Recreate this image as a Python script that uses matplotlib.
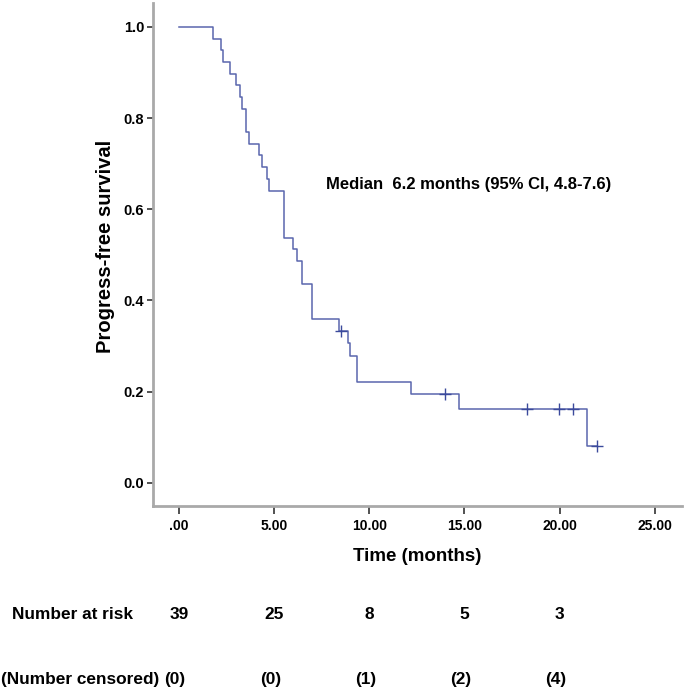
"""
Kaplan-Meier plot: progression-free survival, with number-at-risk table.
Output: out.png
"""

import matplotlib as mpl
import matplotlib.pyplot as plt
from matplotlib.ticker import FixedLocator, FuncFormatter
from matplotlib.transforms import blended_transform_factory

mpl.rcParams.update({
    "font.family": ["Liberation Sans", "DejaVu Sans"],
    "font.weight": "bold",
})

# step curve: time of each drop (months) and survival after it
step_time = [0.0, 1.80, 2.19, 2.29, 2.68, 2.99, 3.20, 3.31, 3.52, 3.69,
             4.22, 4.34, 4.60, 4.71, 5.53, 6.00, 6.18, 6.49, 7.00, 8.42,
             8.89, 8.98, 9.33, 12.18, 14.70, 21.43, 21.98]
step_surv = [1.000, 0.974, 0.949, 0.923, 0.897, 0.872, 0.846, 0.821, 0.769,
             0.744, 0.718, 0.692, 0.667, 0.641, 0.538, 0.513, 0.487, 0.436,
             0.359, 0.333, 0.306, 0.278, 0.222, 0.194, 0.162, 0.081, 0.081]

# censored observations
cens_time = [8.49, 14.00, 18.29, 19.98, 20.70, 21.98]
cens_surv = [0.333, 0.194, 0.162, 0.162, 0.162, 0.081]

x_ticks = [0, 5, 10, 15, 20, 25]
y_ticks = [0.0, 0.2, 0.4, 0.6, 0.8, 1.0]

risk_time = [0, 5, 10, 15, 20]
n_at_risk = [39, 25, 8, 5, 3]
n_censored = [0, 0, 1, 2, 4]

LINE = "#5a66ad"
SPINE = "#a9a9a9"


def x_fmt(v, _pos):
    s = f"{v:.2f}"
    return s[1:] if s.startswith("0") else s


def main():
    fig = plt.figure(figsize=(6.85, 6.9), dpi=100)
    ax = fig.add_axes([0.2229, 0.266, 0.772, 0.730])

    ax.step(step_time, step_surv, where="post", color=LINE, lw=1.1)
    ax.plot(cens_time, cens_surv, ls="none", marker="+", ms=8, mew=1.0,
            color="#3b4a9c")

    ax.text(7.75, 0.655, "Median  6.2 months (95% CI, 4.8-7.6)",
            fontsize=12, fontweight="bold", va="center", ha="left")

    ax.set_xlim(-1.38, 26.4)
    ax.set_ylim(-0.052, 1.053)
    ax.xaxis.set_major_locator(FixedLocator(x_ticks))
    ax.xaxis.set_major_formatter(FuncFormatter(x_fmt))
    ax.yaxis.set_major_locator(FixedLocator(y_ticks))
    ax.yaxis.set_major_formatter(FuncFormatter(lambda v, p: f"{v:.1f}"))

    for side in ("top", "right"):
        ax.spines[side].set_visible(False)
    for side in ("left", "bottom"):
        ax.spines[side].set_color(SPINE)
        ax.spines[side].set_linewidth(2.0)

    ax.tick_params(axis="x", length=6, width=1.2, color="#333333",
                   labelsize=10, pad=3)
    ax.tick_params(axis="y", length=4, width=1.2, color="#333333",
                   labelsize=10.5, pad=2)

    ax.set_xlabel("Time (months)", fontsize=13.5, fontweight="bold",
                  labelpad=11)
    ax.set_ylabel("Progress-free survival", fontsize=14.5, fontweight="bold")
    ax.yaxis.set_label_coords(-0.072, 0.517)

    # number-at-risk table under the axis
    tr = blended_transform_factory(ax.transData, fig.transFigure)
    narrow = ["Liberation Sans Narrow", "Liberation Sans", "DejaVu Sans"]
    row_risk, row_cens = 0.110, 0.0145
    fs = 12.4
    fig.text(12 / 685, row_risk, "Number at risk", family=narrow,
             fontsize=fs, fontweight="bold", va="center", ha="left")
    fig.text(1 / 685, row_cens, "(Number censored)", family=narrow,
             fontsize=fs, fontweight="bold", va="center", ha="left")
    for t, n, c in zip(risk_time, n_at_risk, n_censored):
        ax.text(t, row_risk, str(n), transform=tr, family=narrow,
                fontsize=fs, fontweight="bold", va="center", ha="center")
        ax.text(t - 0.2, row_cens, f"({c})", transform=tr, family=narrow,
                fontsize=fs, fontweight="bold", va="center", ha="center")

    fig.savefig("out.png", dpi=100)


if __name__ == "__main__":
    main()
